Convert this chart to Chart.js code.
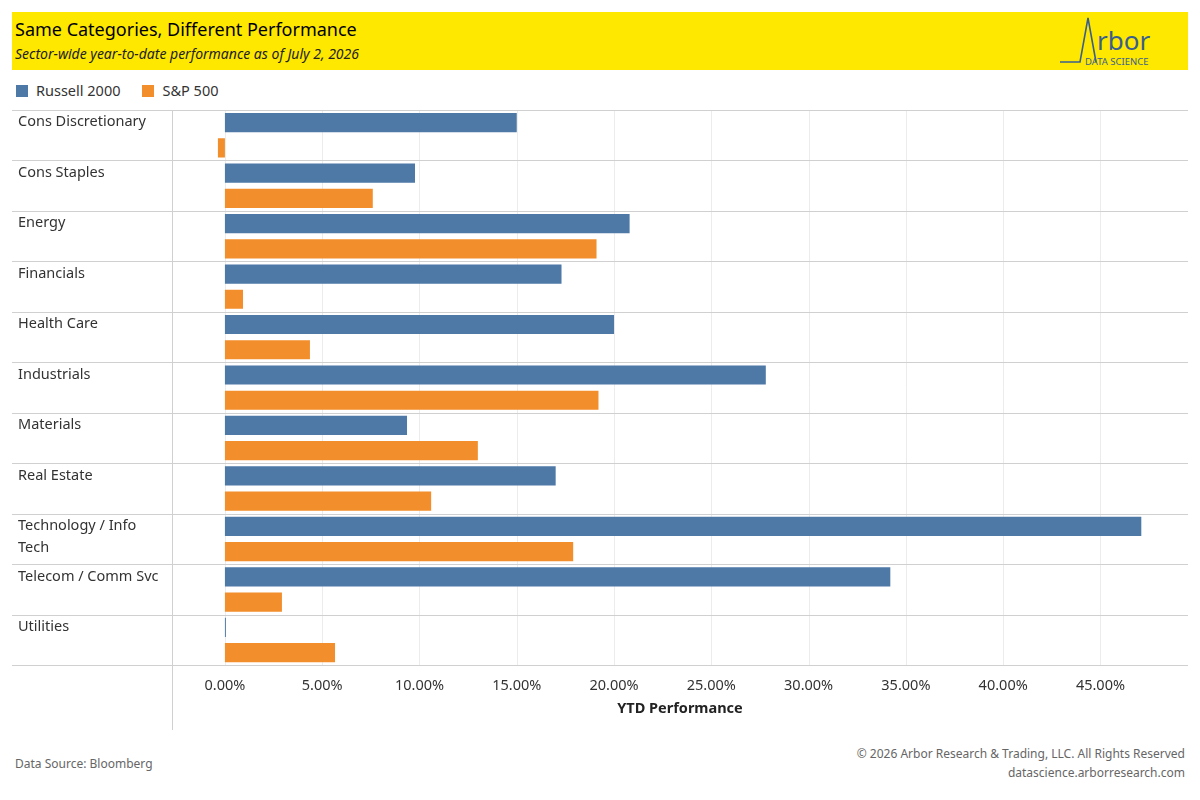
<!DOCTYPE html>
<html><head><meta charset="utf-8">
<script src="https://cdn.jsdelivr.net/npm/chart.js@4.4.1/dist/chart.umd.min.js"></script>
<style>
body{margin:0;background:#fff;font-family:"Noto Sans",sans-serif;width:1200px;height:800px;position:relative;overflow:hidden}
#hdr{position:absolute;left:12px;top:12px;width:1176px;height:58px;background:#ffe800}
#t1{position:absolute;left:3px;top:5px;font-size:18px;color:#000}
#t2{position:absolute;left:3px;top:32px;font-size:14px;font-style:italic;color:#222}
#logo{position:absolute;right:4px;top:2px;width:126px;height:54px}
#leg{position:absolute;left:16px;top:80px;font-size:14.5px;color:#333}
#leg span{display:inline-block;width:12px;height:12px;margin-right:8px;vertical-align:-1px}
#wrap{position:absolute;left:12px;top:110px;width:1176px;height:620px}
.ft{position:absolute;font-size:12px;color:#666}
</style></head><body>
<div id="hdr"><div id="t1">Same Categories, Different Performance</div>
<div id="t2">Sector-wide year-to-date performance as of July 2, 2026</div>
<svg id="logo" viewBox="0 0 126 54"><polyline points="2,48 22,48 30,4 38,48" fill="none" stroke="#3a5f8f" stroke-width="1.6"/>
<text x="39" y="36" font-size="26" fill="#3a5f8f" font-family="Noto Sans">rbor</text>
<text x="27" y="51" font-size="9.5" fill="#3a5f8f" font-family="Noto Sans">DATA SCIENCE</text></svg></div>
<div id="leg"><span style="background:#4e79a7"></span>Russell 2000<span style="background:#f28e2b;margin-left:22px"></span>S&amp;P 500</div>
<div id="wrap"><canvas id="c"></canvas></div>
<div class="ft" style="left:15px;top:755px">Data Source: Bloomberg</div>
<div class="ft" style="right:15px;top:744px;text-align:right;line-height:19px">© 2026 Arbor Research &amp; Trading, LLC. All Rights Reserved<br>datascience.arborresearch.com</div>
<script>
const categories=["Cons Discretionary","Cons Staples","Energy","Financials","Health Care","Industrials","Materials","Real Estate","Technology / Info Tech","Telecom / Comm Svc","Utilities"];
const catLines=[["Cons Discretionary"],["Cons Staples"],["Energy"],["Financials"],["Health Care"],["Industrials"],["Materials"],["Real Estate"],["Technology / Info","Tech"],["Telecom / Comm Svc"],["Utilities"]];
const russell=[15.0,9.77,20.8,17.3,20.0,27.8,9.36,17.0,47.1,34.2,0.05];
const sp500=[-0.36,7.6,19.1,0.93,4.37,19.2,13.0,10.6,17.9,2.93,5.66];
const xTicks=[0,5,10,15,20,25,30,35,40,45];
const grid={id:'g',beforeDatasetsDraw(ch){const c=ch.ctx,a=ch.chartArea,y=ch.scales.y,x=ch.scales.x;c.save();
c.strokeStyle='#ececec';c.lineWidth=1;xTicks.forEach(t=>{const px=Math.round(x.getPixelForValue(t))+.5;c.beginPath();c.moveTo(px,a.top);c.lineTo(px,a.bottom);c.stroke();});
c.strokeStyle='#d0d0d0';const h=(a.bottom-a.top)/categories.length;
for(let i=0;i<=categories.length;i++){const py=Math.round(a.top+i*h)+.5;c.beginPath();c.moveTo(0,py);c.lineTo(a.right,py);c.stroke();}
c.beginPath();c.moveTo(a.left+.5,a.top);c.lineTo(a.left+.5,ch.height);c.stroke();
c.fillStyle='#333';c.font='14.5px "Noto Sans"';c.textBaseline='top';
catLines.forEach((ls,i)=>ls.forEach((l,j)=>c.fillText(l,6,a.top+i*h+5+j*22)));c.restore();}};
new Chart(document.getElementById('c'),{type:'bar',data:{labels:categories,datasets:[
{label:'Russell 2000',data:russell,backgroundColor:'#4e79a7',categoryPercentage:1,barPercentage:0.76},
{label:'S&P 500',data:sp500,backgroundColor:'#f28e2b',categoryPercentage:1,barPercentage:0.76}]},
options:{indexAxis:'y',responsive:true,maintainAspectRatio:false,animation:false,layout:{padding:{left:160,top:0,right:0,bottom:0}},
plugins:{legend:{display:false},tooltip:{enabled:false}},
scales:{y:{display:false},x:{min:-2.72,max:49.5,afterBuildTicks(s){s.ticks=xTicks.map(v=>({value:v}));},
grid:{display:false},border:{display:false},ticks:{color:'#333',font:{size:14.5,family:'Noto Sans'},padding:4,callback:v=>v.toFixed(2)+'%'},
title:{display:true,text:'YTD Performance',color:'#222',font:{size:14.5,weight:'bold',family:'Noto Sans'},padding:{top:2,bottom:12}}}}},plugins:[grid]});
</script></body></html>
